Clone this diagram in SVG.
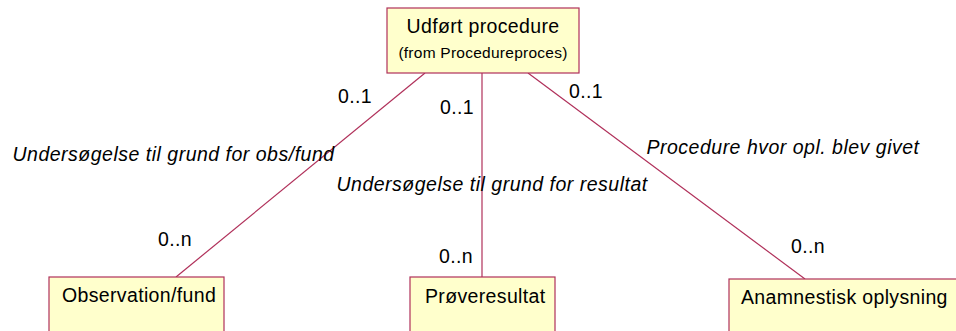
<svg xmlns="http://www.w3.org/2000/svg" width="956" height="331" viewBox="0 0 956 331">
<style>
.box{fill:#FFFFCC;stroke:#B0305A;stroke-width:1.2}
.ln{stroke:#B0305A;stroke-width:1.2;fill:none}
.t{font-family:"Liberation Sans",Arial,sans-serif;font-size:19.5px;letter-spacing:0.35px;fill:#000}
.s{font-family:"Liberation Sans",Arial,sans-serif;font-size:15.5px;letter-spacing:0.25px;fill:#000}
.i{font-family:"Liberation Sans",Arial,sans-serif;font-size:19.5px;letter-spacing:0.5px;font-style:italic;fill:#000}
</style>
<rect width="956" height="331" fill="#fff"/>
<g id="connectors">
<line class="ln" x1="425" y1="73" x2="176" y2="277"/>
<line class="ln" x1="482" y1="73" x2="482" y2="277"/>
<line class="ln" x1="528" y1="73" x2="805" y2="279"/>
<text class="t" x="338" y="103">0..1</text>
<text class="t" x="440" y="114">0..1</text>
<text class="t" x="569" y="98">0..1</text>
<text class="t" x="158" y="246">0..n</text>
<text class="t" x="439" y="263">0..n</text>
<text class="t" x="791" y="253">0..n</text>
<text class="i" x="12.5" y="161">Undersøgelse til grund for obs/fund</text>
<text class="i" x="336.5" y="191">Undersøgelse til grund for resultat</text>
<text class="i" x="646.5" y="154">Procedure hvor opl. blev givet</text>
</g>
<g id="udfoert">
<rect class="box" x="387" y="8" width="192" height="65"/>
<text class="t" x="483" y="33" text-anchor="middle">Udført procedure</text>
<text class="s" x="483" y="58" text-anchor="middle">(from Procedureproces)</text>
</g>
<g id="observation">
<rect class="box" x="49" y="277" width="175" height="70"/>
<text class="t" x="62" y="302">Observation/fund</text>
</g>
<g id="proeveresultat">
<rect class="box" x="410" y="277" width="145" height="70"/>
<text class="t" x="425" y="303">Prøveresultat</text>
</g>
<g id="anamnestisk">
<rect class="box" x="729" y="279" width="240" height="70"/>
<text class="t" x="741" y="304">Anamnestisk oplysning</text>
</g>
</svg>
